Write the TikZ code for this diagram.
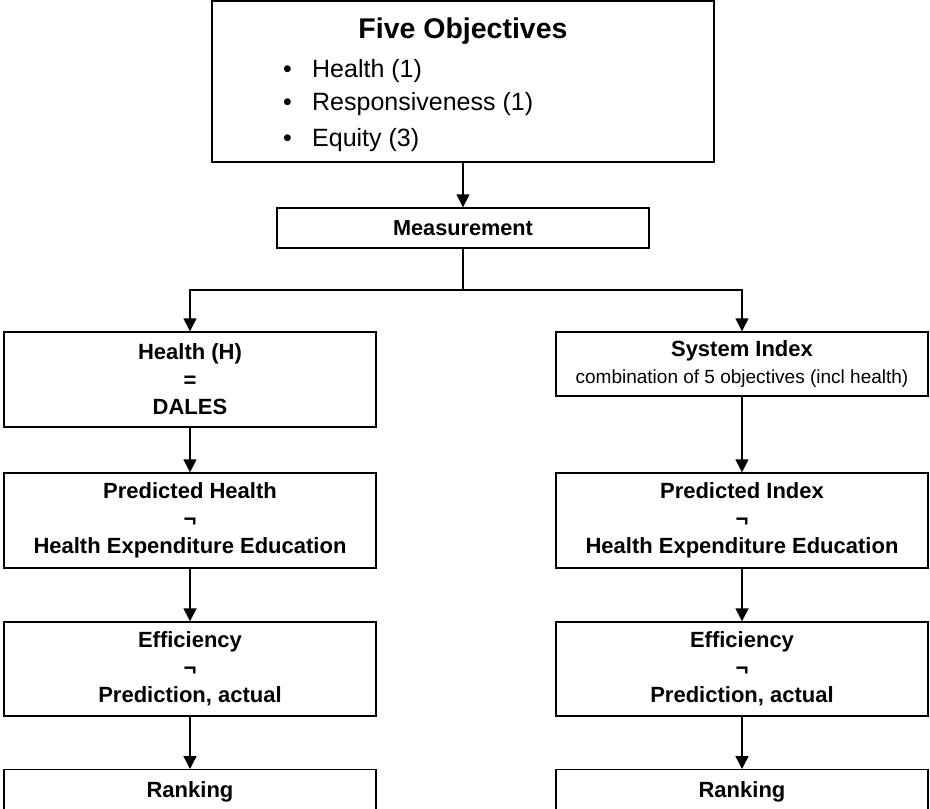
\documentclass[tikz,border=0pt]{standalone}
\usepackage{fontspec}
\setmainfont{Liberation Sans}
\usepackage{tikz}
\usetikzlibrary{arrows.meta}

\begin{document}
\begin{tikzpicture}[x=1pt,y=-1pt,
    box/.style={draw,line width=1.4pt,minimum width=372pt,inner sep=0pt,align=center,
        font=\bfseries\fontsize{22}{27.5}\selectfont},
    flow/.style={-{Triangle[length=13pt,width=13pt]},line width=1.4pt}]
                \clip (0,0) rectangle (930,809);
                \fill[white] (0,0) rectangle (930,809);
                % Objectives
                \node[draw,line width=1.4pt,minimum width=502pt,minimum height=161pt] (objectives) at (463,81.5) {};
                \node[anchor=base,font=\bfseries\fontsize{28.5}{34}\selectfont] (objtitle) at (463,38) {Five Objectives};
                \node[anchor=base west,inner sep=0pt,font=\fontsize{25}{30}\selectfont] (objhealth) at (283,77.3) {\makebox[29pt][l]{\textbullet}Health (1)};
                \node[anchor=base west,inner sep=0pt,font=\fontsize{25}{30}\selectfont] (objresp) at (283,110) {\makebox[29pt][l]{\textbullet}Responsiveness (1)};
                \node[anchor=base west,inner sep=0pt,font=\fontsize{25}{30}\selectfont] (objequity) at (283,146.7) {\makebox[29pt][l]{\textbullet}Equity (3)};
                \node[box,minimum height=40pt,font=\bfseries\fontsize{21.7}{26}\selectfont] (measurement) at (463,228) {Measurement};
                \coordinate (split) at (463,290);
                % Left column
                \node[box,minimum height=95pt] (health) at (190,379.5) {Health (H)\\=\\DALES};
                \node[box,minimum height=95pt] (predhealth) at (190,520.5) {Predicted Health\\¬\\Health Expenditure Education};
                \node[box,minimum height=94pt] (effhealth) at (190,669) {Efficiency\\¬\\Prediction, actual};
                \node[box,anchor=north,inner ysep=12pt] (rankhealth) at (190,769) {Ranking};
                % Right column
                \node[box,minimum height=64pt] (sysindex) at (742,364) {System Index\\{\mdseries\fontsize{19}{24}\selectfont combination of 5 objectives (incl health)}};
                \node[box,minimum height=95pt] (predindex) at (742,520.5) {Predicted Index\\¬\\Health Expenditure Education};
                \node[box,minimum height=94pt] (effindex) at (742,669) {Efficiency\\¬\\Prediction, actual};
                \node[box,anchor=north,inner ysep=12pt] (rankindex) at (742,769) {Ranking};
                % Arrows
                \draw[flow] (objectives) -- (measurement);
                \draw[line width=1.4pt] (measurement) -- (split);
                \draw[flow] (split) -| (health);
                \draw[flow] (split) -| (sysindex);
                \draw[flow] (health) -- (predhealth);
                \draw[flow] (predhealth) -- (effhealth);
                \draw[flow] (effhealth) -- (rankhealth);
                \draw[flow] (sysindex) -- (predindex);
                \draw[flow] (predindex) -- (effindex);
                \draw[flow] (effindex) -- (rankindex);
            \end{tikzpicture}
\end{document}
